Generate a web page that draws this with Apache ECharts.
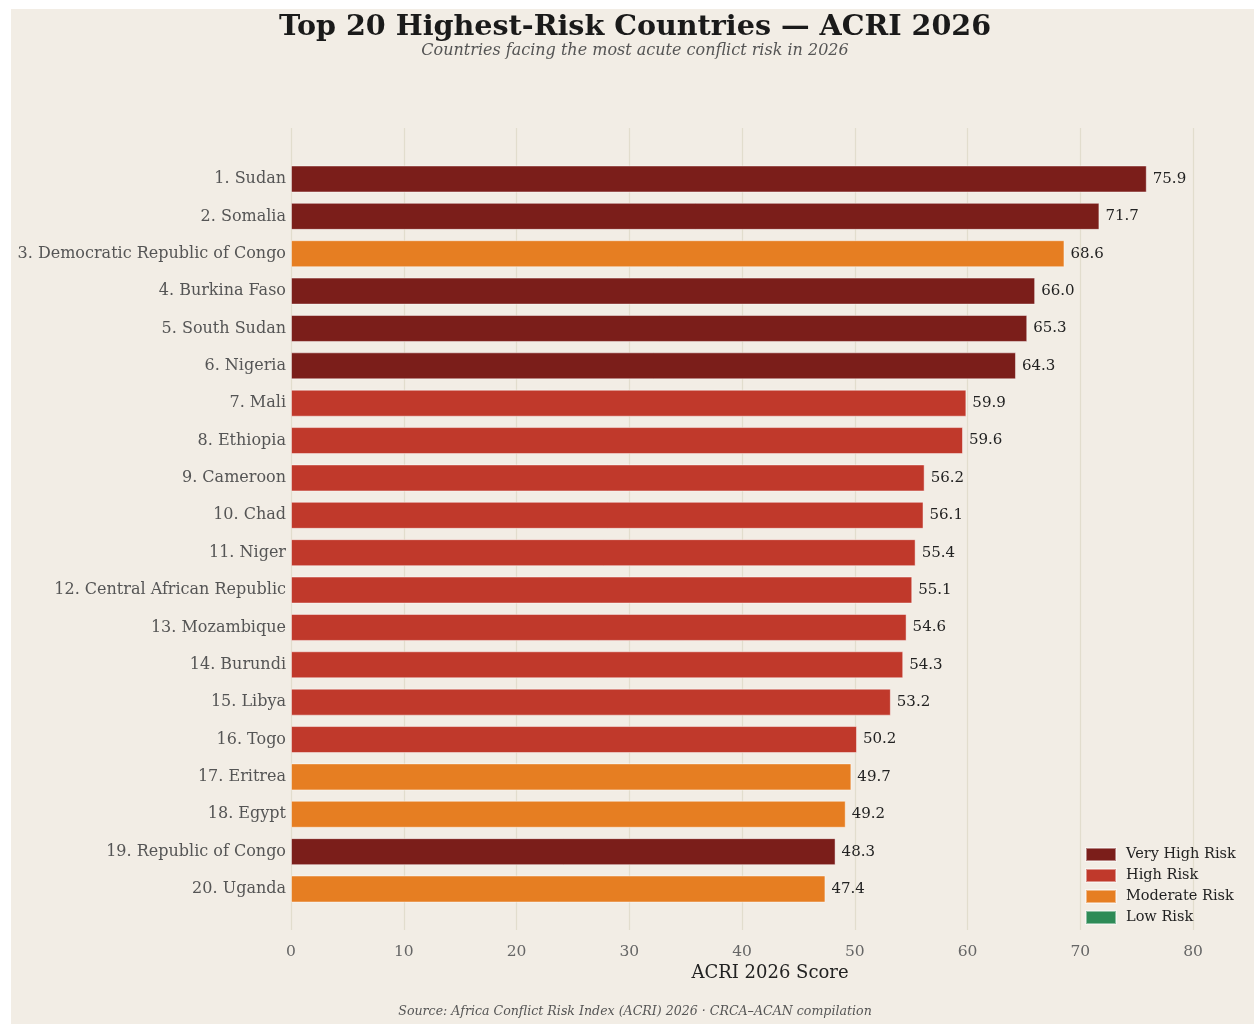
<!DOCTYPE html>
<html>
<head>
<meta charset="utf-8">
<script src="https://cdn.jsdelivr.net/npm/echarts@6/dist/echarts.min.js"></script>
<style>
  html, body { margin: 0; padding: 0; background: #ffffff; }
  #chart { width: 1254px; height: 1024px; }
</style>
</head>
<body>
<div id="chart"></div>
<script>
const countries = [
  '1. Sudan', '2. Somalia', '3. Democratic Republic of Congo', '4. Burkina Faso',
  '5. South Sudan', '6. Nigeria', '7. Mali', '8. Ethiopia', '9. Cameroon',
  '10. Chad', '11. Niger', '12. Central African Republic', '13. Mozambique',
  '14. Burundi', '15. Libya', '16. Togo', '17. Eritrea', '18. Egypt',
  '19. Republic of Congo', '20. Uganda'
]
const scores = [75.9, 71.7, 68.6, 66.0, 65.3, 64.3, 59.9, 59.6, 56.2, 56.1,
  55.4, 55.1, 54.6, 54.3, 53.2, 50.2, 49.7, 49.2, 48.3, 47.4]
const tiers = ['Very High Risk', 'Very High Risk', 'Moderate Risk', 'Very High Risk',
  'Very High Risk', 'Very High Risk', 'High Risk', 'High Risk', 'High Risk',
  'High Risk', 'High Risk', 'High Risk', 'High Risk', 'High Risk', 'High Risk',
  'High Risk', 'Moderate Risk', 'Moderate Risk', 'Very High Risk', 'Moderate Risk']
const tierNames = ['Very High Risk', 'High Risk', 'Moderate Risk', 'Low Risk']
const tierColors = ['#7b1e1a', '#c0392b', '#e67e22', '#2e8b57']
const xTicks = [0, 10, 20, 30, 40, 50, 60, 70, 80]

const font = 'DejaVu Serif'
const chart = echarts.init(document.getElementById('chart'))

// one series per tier, stacked so each row only has one bar
const series = tierNames.map((t, i) => ({
  name: t,
  type: 'bar',
  xAxisIndex: 1,
  yAxisIndex: 1,
  stack: 'all',
  barWidth: 27,
  itemStyle: {
    color: tierColors[i],
    borderColor: 'rgba(255,255,255,0.45)',
    borderWidth: 1
  },
  label: {
    show: true,
    position: 'right',
    distance: 6,
    fontFamily: font,
    fontSize: 15,
    color: '#222',
    formatter: p => p.value.toFixed(1)
  },
  data: scores.map((v, k) => (tiers[k] === t ? v : '-'))
}))

chart.setOption({
  backgroundColor: '#ffffff',
  animation: false,
  graphic: [
    {
      type: 'rect',
      z: -10,
      shape: { x: 11, y: 9, width: 1243, height: 1015 },
      style: { fill: '#f2ede5' }
    },
    {
      type: 'text',
      x: 635, y: 28,
      style: {
        text: 'Top 20 Highest-Risk Countries — ACRI 2026',
        fontFamily: font, fontSize: 28.6, fontWeight: 'bold', fill: '#1a1a1a',
        align: 'center', verticalAlign: 'middle'
      }
    },
    {
      type: 'text',
      x: 635, y: 51,
      style: {
        text: 'Countries facing the most acute conflict risk in 2026',
        fontFamily: font, fontSize: 16, fontStyle: 'italic', fill: '#555',
        align: 'center', verticalAlign: 'middle'
      }
    },
    {
      type: 'text',
      x: 770, y: 973,
      style: {
        text: 'ACRI 2026 Score',
        fontFamily: font, fontSize: 18, fill: '#222',
        align: 'center', verticalAlign: 'middle'
      }
    },
    {
      type: 'text',
      x: 635, y: 1012,
      style: {
        text: 'Source: Africa Conflict Risk Index (ACRI) 2026 · CRCA–ACAN compilation',
        fontFamily: font, fontStyle: 'italic', fontSize: 12.6, fill: '#555',
        align: 'center', verticalAlign: 'middle'
      }
    }
  ],
  legend: {
    data: tierNames,
    orient: 'vertical',
    left: 1085,
    top: 847,
    padding: 0,
    icon: 'rect',
    itemWidth: 30,
    itemHeight: 13,
    itemGap: 6,
    textStyle: { fontFamily: font, fontSize: 14.5, color: '#222', padding: [0, 0, 0, 5] }
  },
  grid: [
    { left: 291, right: 61, top: 128, bottom: 94 },
    { left: 291, right: 61, top: 160.3, bottom: 116.3 }
  ],
  xAxis: [
    {
      gridIndex: 0,
      type: 'value',
      min: xTicks[0],
      max: xTicks[xTicks.length - 1],
      interval: 10,
      axisLine: { show: false },
      axisTick: { show: false },
      axisLabel: { margin: 14, fontFamily: font, fontSize: 15.5, color: '#666' },
      splitLine: { show: true, lineStyle: { color: '#e2ddcd', width: 1.2 } }
    },
    {
      gridIndex: 1,
      type: 'value',
      min: 0,
      max: 80,
      show: false
    }
  ],
  yAxis: [
    {
      gridIndex: 0,
      type: 'value',
      show: false
    },
    {
      gridIndex: 1,
      type: 'category',
      inverse: true,
      data: countries,
      axisLine: { show: false },
      axisTick: { show: false },
      axisLabel: { margin: 5, fontFamily: font, fontSize: 16, color: '#555', padding: [6, 0, 0, 0] }
    }
  ],
  series: series
})
</script>
</body>
</html>
